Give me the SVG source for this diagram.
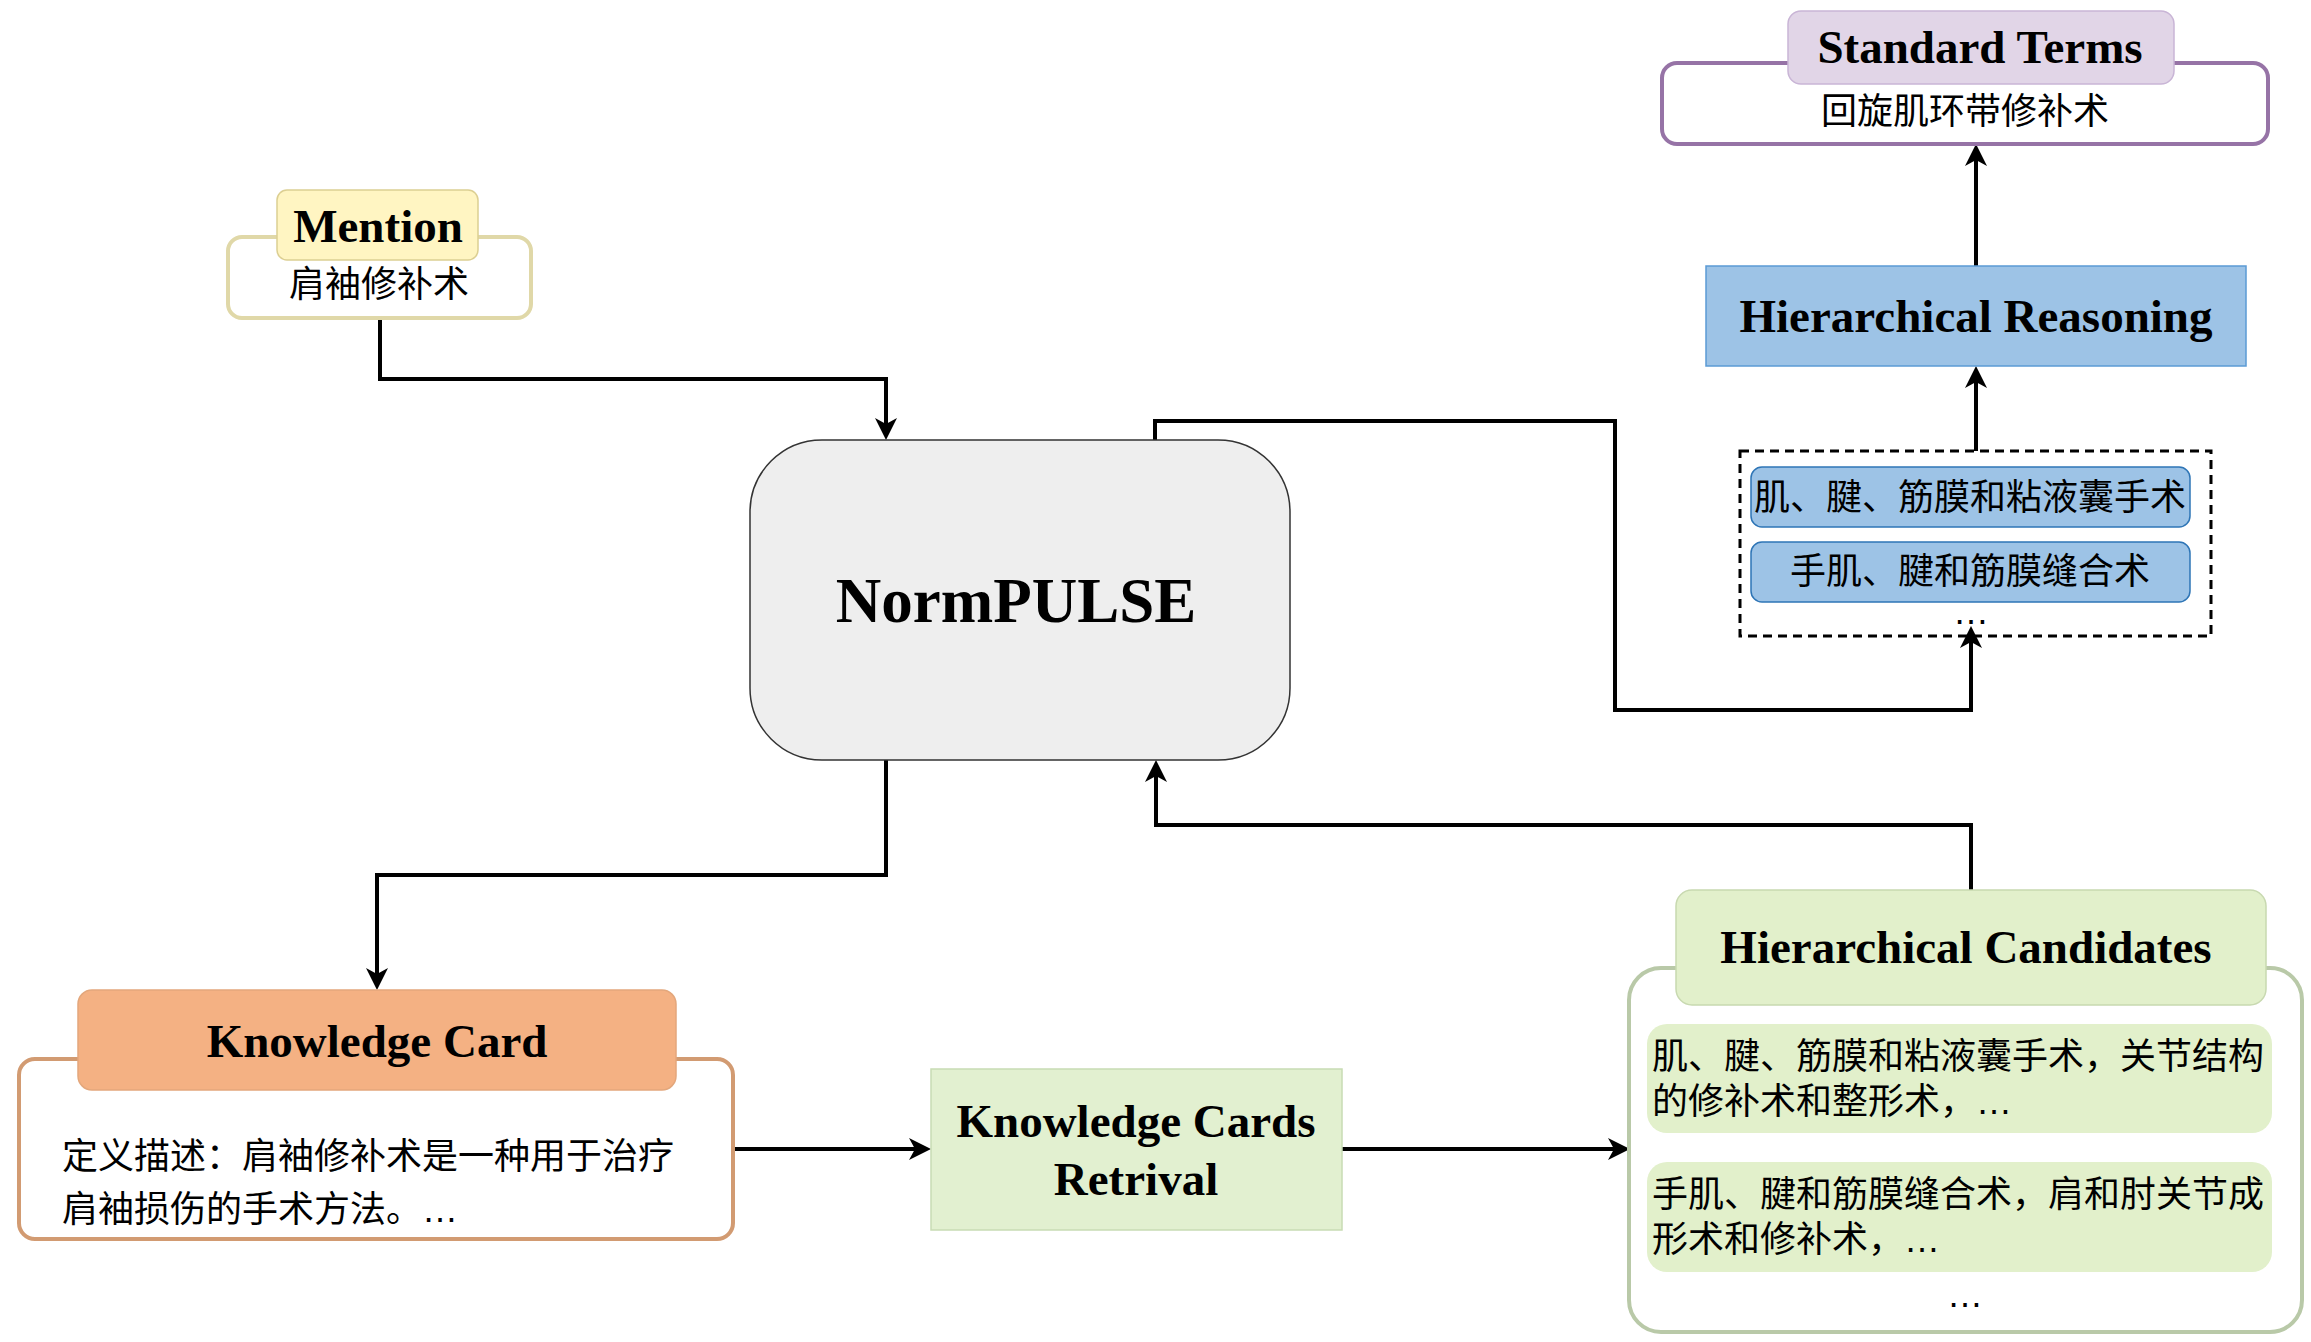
<svg xmlns="http://www.w3.org/2000/svg" width="2311" height="1342" viewBox="0 0 2311 1342">
<style>
.title{font-family:"Liberation Serif","Times New Roman",serif;font-weight:bold;fill:#000;text-anchor:middle}
.cjk{font-family:"Liberation Sans","Noto Sans CJK SC",sans-serif;font-size:36px;fill:#000}
.mid{text-anchor:middle}
.conn{fill:none;stroke:#000;stroke-width:4;stroke-linejoin:miter}
</style>
<defs>
<marker id="arrow" markerUnits="userSpaceOnUse" markerWidth="24" markerHeight="24" refX="12" refY="11" orient="auto">
<path d="M0,0 L22,11 L0,22 L6,11 z" fill="#000"/>
</marker>
</defs>
<rect width="2311" height="1342" fill="#fff"/>

<g id="connectors">
<path class="conn" d="M380,318 V379 H886 V430" marker-end="url(#arrow)"/>
<path class="conn" d="M1155,440 V421 H1615 V710 H1971 V636" marker-end="url(#arrow)"/>
<path class="conn" d="M886,760 V875 H377 V980" marker-end="url(#arrow)"/>
<path class="conn" d="M734,1149 H921" marker-end="url(#arrow)"/>
<path class="conn" d="M1342,1149 H1620" marker-end="url(#arrow)"/>
<path class="conn" d="M1971,890 V825 H1156 V770" marker-end="url(#arrow)"/>
<path class="conn" d="M1976,451 V376" marker-end="url(#arrow)"/>
<path class="conn" d="M1976,266 V154" marker-end="url(#arrow)"/>
</g>

<g id="mention">
<rect x="228" y="237" width="303" height="81" rx="14" fill="#fff" stroke="#e0d8a8" stroke-width="4"/>
<rect x="277" y="190" width="201" height="70" rx="10" fill="#fff5c2" stroke="#dccf92" stroke-width="1.5"/>
<text class="title" x="378" y="242" font-size="47">Mention</text>
<text class="cjk mid" x="379" y="297">肩袖修补术</text>
</g>

<g id="normpulse">
<rect x="750" y="440" width="540" height="320" rx="72" fill="#eeeeee" stroke="#333" stroke-width="1.5"/>
<text class="title" x="1016" y="622" font-size="63">NormPULSE</text>
</g>

<g id="standard-terms">
<rect x="1662" y="63" width="606" height="81" rx="15" fill="#fff" stroke="#9673a6" stroke-width="4"/>
<rect x="1788" y="11" width="386" height="73" rx="13" fill="#e1d5e7" stroke="#c9b5d6" stroke-width="1.5"/>
<text class="title" x="1980" y="63" font-size="47">Standard Terms</text>
<text class="cjk mid" x="1965" y="124">回旋肌环带修补术</text>
</g>

<g id="hierarchical-reasoning">
<rect x="1706" y="266" width="540" height="100" fill="#9dc3e6" stroke="#5b9bd5" stroke-width="1.5"/>
<text class="title" x="1976" y="332" font-size="47">Hierarchical Reasoning</text>
</g>

<g id="candidate-list">
<rect x="1740" y="451" width="471" height="185" fill="none" stroke="#000" stroke-width="3" stroke-dasharray="9 6"/>
<rect x="1751" y="467" width="439" height="60" rx="11" fill="#9dc3e6" stroke="#2e75b6" stroke-width="1.5"/>
<text class="cjk mid" x="1970" y="510">肌、腱、筋膜和粘液囊手术</text>
<rect x="1751" y="542" width="439" height="60" rx="11" fill="#9dc3e6" stroke="#2e75b6" stroke-width="1.5"/>
<text class="cjk mid" x="1970" y="584">手肌、腱和筋膜缝合术</text>
<text class="cjk mid" x="1971" y="624" font-size="34">…</text>
</g>

<g id="knowledge-card">
<rect x="19" y="1059" width="714" height="180" rx="16" fill="#fff" stroke="#d29b72" stroke-width="4"/>
<rect x="78" y="990" width="598" height="100" rx="14" fill="#f4b183" stroke="#e3a77c" stroke-width="1.5"/>
<text class="title" x="377" y="1057" font-size="47">Knowledge Card</text>
<text class="cjk" x="62" y="1169">定义描述：肩袖修补术是一种用于治疗</text>
<text class="cjk" x="62" y="1222">肩袖损伤的手术方法。…</text>
</g>

<g id="retrieval">
<rect x="931" y="1069" width="411" height="161" fill="#e2f0d0" stroke="#c8dcb4" stroke-width="1.5"/>
<text class="title" x="1136" y="1137" font-size="47">Knowledge Cards</text>
<text class="title" x="1136" y="1195" font-size="47">Retrival</text>
</g>

<g id="hierarchical-candidates">
<rect x="1629" y="968" width="673" height="364" rx="32" fill="#fff" stroke="#b9c9a8" stroke-width="4"/>
<rect x="1676" y="890" width="590" height="115" rx="16" fill="#e2f0cb" stroke="#c8d9b0" stroke-width="1.5"/>
<text class="title" x="1966" y="963" font-size="47">Hierarchical Candidates</text>
<rect x="1647" y="1024" width="625" height="109" rx="20" fill="#e2f0cb"/>
<text class="cjk" x="1652" y="1069">肌、腱、筋膜和粘液囊手术，关节结构</text>
<text class="cjk" x="1652" y="1114">的修补术和整形术，…</text>
<rect x="1647" y="1162" width="625" height="110" rx="20" fill="#e2f0cb"/>
<text class="cjk" x="1652" y="1207">手肌、腱和筋膜缝合术，肩和肘关节成</text>
<text class="cjk" x="1652" y="1252">形术和修补术，…</text>
<text class="cjk mid" x="1965" y="1307">…</text>
</g>
</svg>
